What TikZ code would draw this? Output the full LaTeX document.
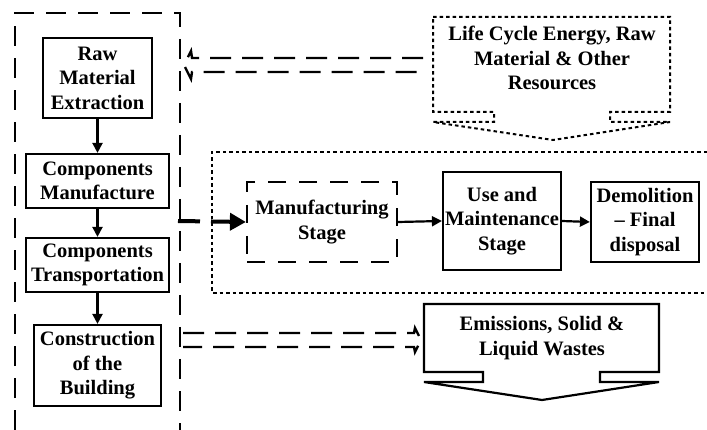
\documentclass[tikz,border=0pt]{standalone}
\usepackage{fontspec}
\setmainfont{Liberation Serif}
\usetikzlibrary{arrows.meta}
\begin{document}
\begin{tikzpicture}[x=1pt,y=-1pt,
  txt/.style={font=\fontsize{20.5}{24.5}\selectfont\bfseries, align=center, inner sep=0pt},
  sbox/.style={txt, draw, line width=2.2pt},
  dbox/.style={txt, draw, line width=2.2pt, dash pattern=on 18pt off 13pt},
  frame/.style={line width=2.6pt, dash pattern=on 20pt off 12pt},
  dbl/.style={line width=2.4pt, dash pattern=on 21pt off 11pt},
  dots/.style={line width=2pt, dash pattern=on 3.5pt off 3pt},
  arr/.style={line width=2.2pt, -{Triangle[length=10pt,width=10pt]}},
  bigarr/.style={line width=4pt, dash pattern=on 22pt off 11pt, -{Triangle[length=16pt,width=17pt]}}
]
\useasboundingbox (0,0) rectangle (707,430);

% outer dashed frame (open at bottom)
\draw[frame] (15,430) -- (15,13) -- (180,13) -- (180,430);
\coordinate (fr) at (178,221);

% left column
\node[sbox, minimum width=109pt, minimum height=80pt] (raw) at (97.5,78) {Raw\\Material\\Extraction};
\node[sbox, minimum width=143pt, minimum height=54pt] (cm) at (97.5,181) {Components\\Manufacture};
\node[sbox, minimum width=143pt, minimum height=54pt] (ct) at (97.5,265) {Components\\Transportation};
\node[sbox, minimum width=127pt, minimum height=81pt] (cob) at (97.5,365.5) {Construction\\of the\\Building};
\draw[arr] (raw) -- (cm);
\draw[arr] (cm) -- (ct);
\draw[arr] (ct) -- (cob);

% dotted stage rectangle (open at right)
\draw[dots] (707,152) -- (212,152) -- (212,293) -- (707,293);

% stages
\node[dbox, minimum width=150pt, minimum height=80pt] (ms) at (322,222) {Manufacturing\\Stage};
\node[sbox, minimum width=118pt, minimum height=98pt] (um) at (502,221) {Use and\\Maintenance\\Stage};
\node[sbox, minimum width=108pt, minimum height=80pt] (dem) at (645,222) {Demolition\\-- Final\\disposal};
\draw[bigarr] (fr) -- (ms.west);
\draw[arr] (ms.east) -- (um.west);
\draw[arr] (um.east) -- (dem.west);

% life cycle callout (dotted)
\draw[dots] (433,17) -- (670,17) -- (670,112) -- (610,112) -- (610,122) -- (670,122)
  -- (553,140) -- (433,122) -- (494,122) -- (494,112) -- (433,112) -- cycle;
\node[txt] (lc) at (552,58) {Life Cycle Energy, Raw\\Material \& Other\\Resources};

% emissions callout (solid)
\draw[line width=2.2pt] (424,304) -- (659,304) -- (659,372) -- (600,372) -- (600,382) -- (659,382)
  -- (542,400) -- (424,382) -- (483,382) -- (483,372) -- (424,372) -- cycle;
\node[txt] (em) at (542,338) {Emissions, Solid \&\\Liquid Wastes};

% double dashed block arrow: resources -> frame
\draw[dbl] (423,58) -- (192,58) -- (191,51) -- (184,65) -- (191,79) -- (192,72) -- (423,72);
% double dashed block arrow: frame -> emissions
\draw[dbl] (183,333) -- (414,333) -- (415,328) -- (421,340) -- (415,352) -- (414,347) -- (183,347);
\end{tikzpicture}
\end{document}
